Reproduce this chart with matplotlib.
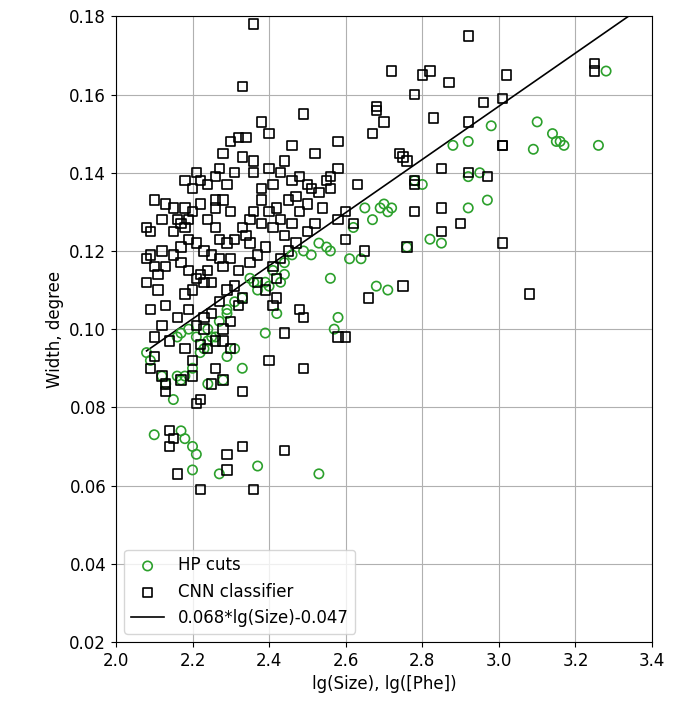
import matplotlib
matplotlib.use("Agg")
import matplotlib.pyplot as plt
import numpy as np

hp = [(3.28,0.166),(3.10,0.153),(3.14,0.150),(3.15,0.148),(3.16,0.148),(3.17,0.147),(3.26,0.147),(3.09,0.146),(2.98,0.152),(2.92,0.148),(2.88,0.147),(2.92,0.139),(2.95,0.140),(2.97,0.133),(2.92,0.131),(2.80,0.137),(2.78,0.138),(2.72,0.131),(2.70,0.132),(2.69,0.131),(2.71,0.130),(2.67,0.128),(2.65,0.131),(2.62,0.126),(2.82,0.123),(2.85,0.122),(2.76,0.121),(2.71,0.110),(2.68,0.111),(2.64,0.118),(2.61,0.118),(2.56,0.120),(2.55,0.121),(2.53,0.122),(2.51,0.119),(2.49,0.120),(2.46,0.119),(2.44,0.117),(2.44,0.114),(2.43,0.112),(2.40,0.111),(2.56,0.113),(2.57,0.100),(2.58,0.103),(2.42,0.104),(2.39,0.099),(2.36,0.112),(2.35,0.113),(2.37,0.110),(2.33,0.108),(2.31,0.107),(2.29,0.105),(2.29,0.104),(2.27,0.102),(2.25,0.098),(2.24,0.097),(2.23,0.095),(2.21,0.098),(2.19,0.100),(2.17,0.099),(2.16,0.098),(2.24,0.100),(2.26,0.098),(2.29,0.093),(2.28,0.087),(2.24,0.086),(2.20,0.090),(2.18,0.088),(2.16,0.088),(2.17,0.087),(2.15,0.082),(2.12,0.088),(2.13,0.086),(2.08,0.094),(2.09,0.092),(2.10,0.073),(2.17,0.074),(2.18,0.072),(2.20,0.070),(2.21,0.068),(2.20,0.064),(2.27,0.063),(2.37,0.065),(2.53,0.063),(2.31,0.095),(2.33,0.090),(2.22,0.094),(2.39,0.112),(2.41,0.115)]

cnn = [(2.33,0.162),(2.36,0.178),(2.92,0.175),(3.25,0.168),(3.25,0.166),(3.02,0.165),(2.72,0.166),(2.80,0.165),(2.82,0.166),(2.78,0.160),(2.68,0.157),(2.68,0.156),(2.87,0.163),(2.96,0.158),(2.92,0.153),(2.83,0.154),(2.70,0.153),(2.67,0.150),(3.01,0.159),(2.38,0.153),(2.40,0.150),(2.49,0.155),(2.46,0.147),(2.30,0.148),(2.32,0.149),(2.34,0.149),(2.28,0.145),(2.33,0.144),(2.27,0.141),(2.26,0.139),(2.21,0.140),(2.18,0.138),(2.22,0.138),(2.24,0.137),(2.36,0.140),(2.40,0.141),(2.43,0.140),(2.46,0.138),(2.50,0.137),(2.52,0.145),(2.55,0.138),(2.58,0.141),(2.58,0.148),(2.63,0.137),(2.75,0.144),(2.76,0.143),(2.74,0.145),(2.78,0.138),(2.78,0.137),(2.85,0.141),(2.92,0.140),(2.97,0.139),(3.01,0.147),(3.01,0.147),(2.78,0.130),(2.85,0.131),(2.85,0.125),(2.90,0.127),(3.01,0.122),(3.08,0.109),(2.66,0.108),(2.75,0.111),(2.76,0.121),(2.65,0.120),(2.60,0.123),(2.58,0.128),(2.60,0.098),(2.58,0.098),(2.49,0.103),(2.48,0.105),(2.49,0.090),(2.44,0.069),(2.36,0.059),(2.33,0.070),(2.29,0.068),(2.29,0.064),(2.22,0.059),(2.22,0.082),(2.21,0.081),(2.16,0.063),(2.15,0.072),(2.14,0.070),(2.14,0.074),(2.17,0.087),(2.13,0.086),(2.12,0.088),(2.13,0.084),(2.10,0.093),(2.09,0.090),(2.10,0.098),(2.12,0.101),(2.09,0.105),(2.13,0.106),(2.11,0.110),(2.08,0.112),(2.08,0.118),(2.10,0.116),(2.09,0.125),(2.08,0.126),(2.10,0.133),(2.13,0.132),(2.12,0.120),(2.15,0.125),(2.16,0.128),(2.17,0.127),(2.18,0.126),(2.19,0.128),(2.20,0.130),(2.15,0.119),(2.17,0.117),(2.19,0.115),(2.21,0.113),(2.22,0.114),(2.23,0.112),(2.24,0.115),(2.25,0.112),(2.20,0.110),(2.18,0.109),(2.19,0.105),(2.16,0.103),(2.14,0.097),(2.18,0.095),(2.20,0.092),(2.22,0.096),(2.24,0.095),(2.23,0.100),(2.25,0.086),(2.28,0.087),(2.26,0.090),(2.28,0.100),(2.30,0.095),(2.30,0.102),(2.32,0.106),(2.33,0.108),(2.31,0.111),(2.32,0.115),(2.28,0.116),(2.30,0.118),(2.29,0.122),(2.31,0.123),(2.34,0.124),(2.35,0.122),(2.33,0.126),(2.35,0.128),(2.36,0.130),(2.38,0.127),(2.38,0.133),(2.40,0.130),(2.41,0.126),(2.42,0.131),(2.43,0.128),(2.45,0.133),(2.47,0.134),(2.48,0.130),(2.50,0.132),(2.51,0.136),(2.53,0.135),(2.54,0.131),(2.52,0.127),(2.50,0.125),(2.47,0.122),(2.45,0.120),(2.43,0.118),(2.41,0.116),(2.42,0.113),(2.41,0.106),(2.42,0.108),(2.39,0.110),(2.37,0.112),(2.40,0.092),(2.44,0.099),(2.33,0.084),(2.20,0.136),(2.22,0.132),(2.26,0.131),(2.28,0.133),(2.30,0.130),(2.24,0.128),(2.26,0.126),(2.27,0.123),(2.23,0.120),(2.21,0.122),(2.19,0.123),(2.17,0.121),(2.25,0.119),(2.27,0.118),(2.29,0.110),(2.27,0.107),(2.25,0.104),(2.23,0.103),(2.21,0.101),(2.26,0.097),(2.28,0.097),(2.20,0.088),(2.35,0.117),(2.37,0.119),(2.39,0.121),(2.44,0.124),(2.46,0.127),(2.56,0.136),(2.56,0.139),(2.60,0.130),(2.62,0.127),(2.48,0.139),(2.44,0.143),(2.41,0.137),(2.38,0.136),(2.36,0.143),(2.31,0.140),(2.29,0.137),(2.26,0.133),(2.18,0.131),(2.15,0.131),(2.12,0.128),(2.11,0.114),(2.13,0.116),(2.09,0.119)]

slope, intercept = 0.068, -0.047
line_x = [2.08, 3.4]

fig = plt.figure(figsize=(6.9, 7.09), dpi=100)
ax = fig.add_axes([0.168, 0.0945, 0.777, 0.8825])
hx, hy = zip(*hp)
cx, cy = zip(*cnn)
ax.scatter(hx, hy, s=45, facecolors='none', edgecolors='#2ca02c', linewidths=1.2, label='HP cuts', zorder=3)
ax.scatter(cx, cy, s=45, marker='s', facecolors='none', edgecolors='black', linewidths=1.2, label='CNN classifier', zorder=3)
lx = np.array(line_x)
ax.plot(lx, slope*lx + intercept, color='black', lw=1.2, label='0.068*lg(Size)-0.047')
ax.set_xlim(2.0, 3.4)
ax.set_ylim(0.02, 0.18)
ax.set_xticks(np.arange(2.0, 3.41, 0.2))
ax.set_yticks(np.arange(0.02, 0.181, 0.02))
ax.grid(True, color='#b0b0b0', lw=0.8)
ax.set_axisbelow(True)
ax.set_xlabel('lg(Size), lg([Phe])', fontsize=12)
ax.set_ylabel('Width, degree', fontsize=12)
ax.tick_params(labelsize=12)
ax.legend(loc='lower left', fontsize=12)
fig.savefig('out.png', dpi=100)
